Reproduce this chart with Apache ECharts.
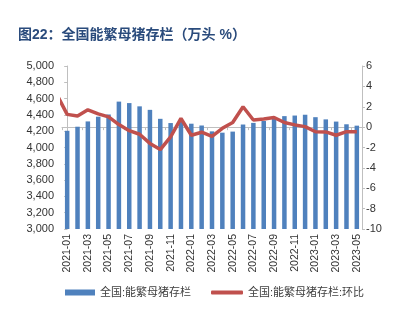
<!DOCTYPE html>
<html>
<head>
<meta charset="utf-8">
<script src="https://cdn.jsdelivr.net/npm/echarts@6/dist/echarts.min.js"></script>
<style>html,body{margin:0;padding:0;background:#fff;}#c{width:395px;height:322px;}</style>
</head>
<body>
<div id="c"></div>
<script>
const months = ['2021-01','2021-02','2021-03','2021-04','2021-05','2021-06','2021-07','2021-08','2021-09','2021-10','2021-11','2021-12',
  '2022-01','2022-02','2022-03','2022-04','2022-05','2022-06','2022-07','2022-08','2022-09','2022-10','2022-11','2022-12',
  '2023-01','2023-02','2023-03','2023-04','2023-05'];
const sowStock = [4205,4255,4320,4378,4405,4563,4545,4505,4462,4352,4300,4318,
  4292,4270,4198,4182,4195,4282,4302,4325,4352,4385,4392,4402,
  4372,4345,4318,4285,4268];
const sowMoM = [1.25,1.1,1.7,1.3,1.0,0.25,-0.35,-0.7,-1.6,-2.2,-0.95,0.85,
  -0.8,-0.5,-0.9,-0.12,0.45,2.0,0.7,0.8,0.95,0.45,0.22,0.05,
  -0.45,-0.47,-0.8,-0.45,-0.45];
const sowMoMPrev = 3.2; // 2020-12, partly visible at the left edge
const leftTicks = [3000,5000,200];
const rightTicks = [-10,6,2];

const nameBar = '全国:能繁母猪存栏';
const nameLine = '全国:能繁母猪存栏:环比';
const font = 'Liberation Sans, Arial, Noto Sans CJK SC, sans-serif';

const lineData = [[-1, sowMoMPrev]].concat(months.map((m,i)=>[i, sowMoM[i]]));

const chart = echarts.init(document.getElementById('c'));
chart.setOption({
  animation:false,
  backgroundColor:'#fff',
  title:{text:'图22：全国能繁母猪存栏（万头 %）',left:13,top:23,
    textStyle:{fontSize:14,fontWeight:'bold',color:'#2a4b7c',fontFamily:font}},
  legend:[
    {data:[{name:nameBar,icon:'rect'}],left:60,top:282,itemWidth:30,itemHeight:6,
      textStyle:{fontSize:11,color:'#404040',fontFamily:font}},
    {data:[{name:nameLine,icon:'roundRect'}],left:206,top:282,itemWidth:32,itemHeight:4,
      textStyle:{fontSize:11,color:'#404040',fontFamily:font}}
  ],
  grid:{left:62,right:33,top:66,bottom:93},
  xAxis:[
    {type:'category',data:months,boundaryGap:true,
      axisLine:{lineStyle:{color:'#bfbfbf'}},
      axisTick:{show:true,interval:1,length:3,lineStyle:{color:'#bfbfbf'}},
      axisLabel:{interval:1,rotate:90,fontSize:10.5,color:'#333',fontFamily:font,margin:5,padding:[6,0,0,0]}},
    {type:'value',min:-0.5,max:months.length-0.5,show:false}
  ],
  yAxis:[
    {type:'value',min:leftTicks[0],max:leftTicks[1],interval:leftTicks[2],
      axisLine:{show:true,lineStyle:{color:'#bfbfbf'}},
      axisTick:{show:true,length:3,lineStyle:{color:'#bfbfbf'}},
      splitLine:{show:false},
      axisLabel:{fontSize:11,color:'#333',fontFamily:font,margin:8,
        formatter:v=>v.toLocaleString('en-US')}},
    {type:'value',min:rightTicks[0],max:rightTicks[1],interval:rightTicks[2],
      axisLine:{show:true,lineStyle:{color:'#bfbfbf'}},
      axisTick:{show:true,length:3,lineStyle:{color:'#bfbfbf'}},
      splitLine:{show:false},
      axisLabel:{fontSize:11,color:'#333',fontFamily:font,margin:4}}
  ],
  series:[
    {name:nameBar,type:'bar',data:sowStock,barWidth:4.5,
      itemStyle:{color:'#4f81bd'}},
    {name:nameLine,type:'line',xAxisIndex:1,yAxisIndex:1,data:lineData,
      showSymbol:false,symbol:'none',clip:true,
      lineStyle:{color:'#c0504d',width:3.5},itemStyle:{color:'#c0504d'}}
  ]
});
</script>
</body>
</html>
